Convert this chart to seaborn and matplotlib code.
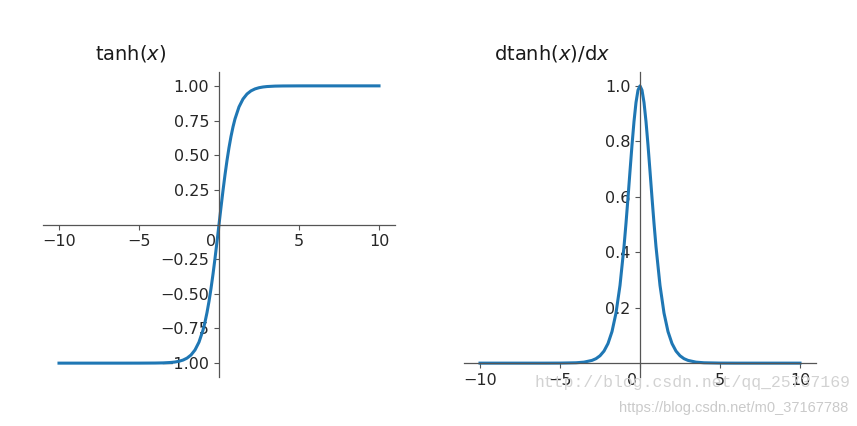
import matplotlib
matplotlib.use("Agg")
import matplotlib.pyplot as plt
import matplotlib.transforms as mtransforms
import seaborn as sns

# ---- data ----
x_vals = [-10, -8, -6, -5, -4, -3.5, -3, -2.75, -2.5, -2.25, -2, -1.75, -1.5, -1.25,
          -1, -0.875, -0.75, -0.625, -0.5, -0.375, -0.25, -0.125, 0,
          0.125, 0.25, 0.375, 0.5, 0.625, 0.75, 0.875, 1,
          1.25, 1.5, 1.75, 2, 2.25, 2.5, 2.75, 3, 3.5, 4, 5, 6, 8, 10]
tanh_vals = [-1.0, -1.0, -1.0, -0.9999, -0.9993, -0.9982, -0.9951, -0.9919, -0.9866, -0.9780,
             -0.9640, -0.9414, -0.9051, -0.8483,
             -0.7616, -0.7039, -0.6351, -0.5546, -0.4621, -0.3584, -0.2449, -0.1244, 0.0,
             0.1244, 0.2449, 0.3584, 0.4621, 0.5546, 0.6351, 0.7039, 0.7616,
             0.8483, 0.9051, 0.9414, 0.9640, 0.9780, 0.9866, 0.9919, 0.9951, 0.9982, 0.9993,
             0.9999, 1.0, 1.0, 1.0]
dtanh_vals = [0.0, 0.0, 0.0, 0.0002, 0.0013, 0.0036, 0.0099, 0.0161, 0.0266, 0.0435,
              0.0707, 0.1138, 0.1807, 0.2804,
              0.4200, 0.5045, 0.5966, 0.6924, 0.7864, 0.8715, 0.9400, 0.9845, 1.0,
              0.9845, 0.9400, 0.8715, 0.7864, 0.6924, 0.5966, 0.5045, 0.4200,
              0.2804, 0.1807, 0.1138, 0.0707, 0.0435, 0.0266, 0.0161, 0.0099, 0.0036, 0.0013,
              0.0002, 0.0, 0.0, 0.0]
x_ticks = [-10, -5, 0, 5, 10]
x_ticklabels = ["\u221210", "\u22125", "0", "5", "10"]
tanh_yticks = [-1.0, -0.75, -0.5, -0.25, 0.25, 0.5, 0.75, 1.0]
tanh_yticklabels = ["\u22121.00", "\u22120.75", "\u22120.50", "\u22120.25", "0.25", "0.50", "0.75", "1.00"]
dtanh_yticks = [0.2, 0.4, 0.6, 0.8, 1.0]
dtanh_yticklabels = ["0.2", "0.4", "0.6", "0.8", "1.0"]
titles = ["tanh($x$)", "dtanh($x$)/d$x$"]
watermark1 = "http://blog.csdn.net/qq_25737169"
watermark2 = "https://blog.csdn.net/m0_37167788"

W, H = 857, 426
fig = plt.figure(figsize=(W / 100, H / 100), dpi=100)
plt.rcParams['font.family'] = ['DejaVu Sans']

line_color = "#1f77b4"
tick_color = "#262626"
spine_color = "#555555"


def make_axes(left_px):
    return fig.add_axes([left_px / W, (H - 377) / H, 352 / W, 305 / H])


ax1 = make_axes(43)
ax2 = make_axes(464)

sns.lineplot(x=x_vals, y=tanh_vals, ax=ax1, color=line_color, linewidth=2.2)
sns.lineplot(x=x_vals, y=dtanh_vals, ax=ax2, color=line_color, linewidth=2.2)

ax1.set_ylim(-1.1, 1.1)
ax2.set_ylim(-0.05, 1.05)

for ax, title in zip([ax1, ax2], titles):
    ax.set_xlim(-11, 11)
    ax.spines['left'].set_position('zero')
    ax.spines['bottom'].set_position('zero')
    ax.spines['right'].set_visible(False)
    ax.spines['top'].set_visible(False)
    for s in ['left', 'bottom']:
        ax.spines[s].set_color(spine_color)
        ax.spines[s].set_linewidth(0.9)
    ax.set_xticks(x_ticks)
    ax.set_xticklabels(x_ticklabels)
    ax.tick_params(axis='both', labelsize=11.5, colors=tick_color, length=3.5,
                   width=0.8, direction='out')
    ax.tick_params(axis='both', color=spine_color)
    ax.text(0.25, 1.025, title, transform=ax.transAxes, ha='center', va='bottom',
            fontsize=14, color="#1a1a1a")
    ax.set_xlabel("")
    ax.set_ylabel("")
    ax.patch.set_alpha(0)

ax1.set_yticks(tanh_yticks)
ax1.set_yticklabels(tanh_yticklabels)
ax2.set_yticks(dtanh_yticks)
ax2.set_yticklabels(dtanh_yticklabels)

# the "0" x tick label sits a little left of the vertical spine in the reference
shift = mtransforms.ScaledTranslation(-8 / 100, 0, fig.dpi_scale_trans)
for ax in (ax1, ax2):
    for lab in ax.get_xticklabels():
        if lab.get_text() == "0":
            lab.set_transform(lab.get_transform() + shift)

fig.text(850 / W, 1 - 383 / H, watermark1, ha='right', va='center', fontsize=11.8,
         family=['Liberation Mono', 'DejaVu Sans Mono'], color="#d2d2d2")
fig.text(848 / W, 1 - 408 / H, watermark2, ha='right', va='center', fontsize=10.5,
         family=['Liberation Sans', 'DejaVu Sans'], color="#cacaca")

fig.savefig("out.png", dpi=100, facecolor="white")
